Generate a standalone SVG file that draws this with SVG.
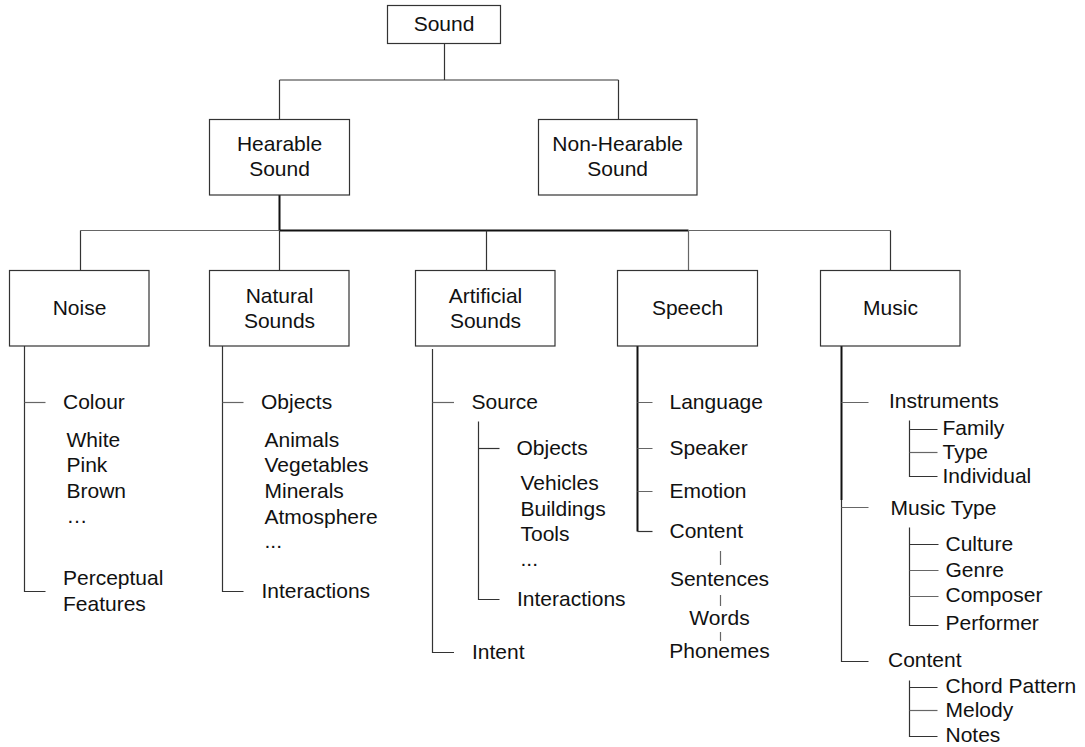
<svg xmlns="http://www.w3.org/2000/svg" width="1085" height="747" viewBox="0 0 1085 747">
<style>
text{font-family:"Liberation Sans",Arial,Helvetica,sans-serif;font-size:21px;fill:#111}
.c{text-anchor:middle}
.box{fill:#fff;stroke:#333;stroke-width:1.2}
.ln{stroke:#333;stroke-width:1.2;fill:none}
.lg{stroke:#666;stroke-width:1.2;fill:none}
.lb{stroke:#111;stroke-width:2;fill:none}
</style>
<rect width="1085" height="747" fill="#fff"/>
<g id="connectors">
<path class="ln" d="M444.5 44V80M279.5 80H618.5M279.5 80V119.5M618.5 80V119.5"/>
<path class="lb" d="M279.5 195V230.5M279.5 230.5H688.5"/>
<path class="lg" d="M80.5 230.5H279.5M688.5 230.5H890.5"/>
<path class="ln" d="M80.5 230.5V270.5M279.5 230.5V270.5M486.5 230.5V270.5M890.5 230.5V270.5"/>
<path class="lg" d="M688.5 230.5V270.5"/>
<!-- Noise -->
<path class="ln" d="M24.5 346V591.5H45.5"/>
<path class="lg" d="M24.5 402.5H45.5"/>
<!-- Natural -->
<path class="ln" d="M222.5 346V591.5H243.5"/>
<path class="lg" d="M222.5 402.5H243.5"/>
<!-- Artificial -->
<path class="ln" d="M432.5 349V652.5H454"/>
<path class="lg" d="M432.5 402.5H454"/>
<path class="ln" d="M478.5 421.5V599.5H499.5"/>
<path class="ln" d="M478.5 448.5H499.5"/>
<!-- Speech -->
<path class="lb" d="M637.5 346V531.5"/>
<path class="ln" d="M637.5 531.5H652.5"/>
<path class="lg" d="M637.5 402.5H652.5M637.5 448.5H652.5M637.5 491.5H652.5"/>
<path class="lg" d="M720.5 551V565M720.5 595V606M720.5 632V641"/>
<!-- Music -->
<path class="lb" d="M841.5 346V500"/>
<path class="ln" d="M841.5 500V661.5H868.5"/>
<path class="lg" d="M841.5 402.5H868.5M841.5 507.5H868.5"/>
<path class="ln" d="M909.5 420.5V476.5H937.5M909.5 429.5H937.5"/>
<path class="lg" d="M909.5 452.5H937.5"/>
<path class="ln" d="M909.5 527.5V625.5H938.5M909.5 544.5H938.5"/>
<path class="lg" d="M909.5 570.5H938.5M909.5 596.5H938.5"/>
<path class="ln" d="M909.5 680.5V736.5H937.5M909.5 687.5H937.5"/>
<path class="lg" d="M909.5 710.5H937.5"/>
</g>
<g id="sound">
<rect class="box" x="387.5" y="5.5" width="113" height="38"/>
<text class="c" x="444" y="31">Sound</text>
</g>
<g id="hearable">
<rect class="box" x="209.5" y="119.5" width="140" height="75.5"/>
<text class="c" x="279.5" y="151">Hearable</text>
<text class="c" x="279.5" y="176">Sound</text>
</g>
<g id="nonhearable">
<rect class="box" x="538.5" y="119.5" width="158.5" height="75.5"/>
<text class="c" x="617.7" y="151">Non-Hearable</text>
<text class="c" x="617.7" y="176">Sound</text>
</g>
<g id="noise">
<rect class="box" x="9.5" y="270.5" width="139.5" height="75.5"/>
<text class="c" x="79.5" y="315">Noise</text>
</g>
<g id="natural">
<rect class="box" x="209.5" y="270.5" width="139.5" height="75.5"/>
<text class="c" x="279.5" y="302.5">Natural</text>
<text class="c" x="279.5" y="328">Sounds</text>
</g>
<g id="artificial">
<rect class="box" x="415.5" y="270.5" width="139.5" height="75.5"/>
<text class="c" x="485.5" y="302.5">Artificial</text>
<text class="c" x="485.5" y="328">Sounds</text>
</g>
<g id="speech">
<rect class="box" x="617.5" y="270.5" width="140" height="75.5"/>
<text class="c" x="687.5" y="315">Speech</text>
</g>
<g id="music">
<rect class="box" x="820.5" y="270.5" width="139.5" height="75.5"/>
<text class="c" x="890.5" y="315">Music</text>
</g>
<g id="noise-items">
<text x="63" y="409">Colour</text>
<text x="66.5" y="447">White</text>
<text x="66.5" y="472">Pink</text>
<text x="66.5" y="498">Brown</text>
<text x="66.5" y="523">…</text>
<text x="63" y="585">Perceptual</text>
<text x="63" y="611">Features</text>
</g>
<g id="natural-items">
<text x="261" y="409">Objects</text>
<text x="264.5" y="447">Animals</text>
<text x="264.5" y="472">Vegetables</text>
<text x="264.5" y="498">Minerals</text>
<text x="264.5" y="524">Atmosphere</text>
<text x="264.5" y="548">...</text>
<text x="261.5" y="598">Interactions</text>
</g>
<g id="artificial-items">
<text x="471.5" y="409">Source</text>
<text x="516.5" y="455">Objects</text>
<text x="520.5" y="490">Vehicles</text>
<text x="520.5" y="516">Buildings</text>
<text x="520.5" y="541">Tools</text>
<text x="520.5" y="566">...</text>
<text x="517" y="606">Interactions</text>
<text x="472" y="659">Intent</text>
</g>
<g id="speech-items">
<text x="669.5" y="409">Language</text>
<text x="669.5" y="455">Speaker</text>
<text x="669.5" y="498">Emotion</text>
<text x="669.5" y="538">Content</text>
<text class="c" x="719.5" y="586">Sentences</text>
<text class="c" x="719.5" y="625">Words</text>
<text class="c" x="719.5" y="658">Phonemes</text>
</g>
<g id="music-items">
<text x="889" y="408">Instruments</text>
<text x="942.5" y="435">Family</text>
<text x="942.5" y="459">Type</text>
<text x="942.5" y="483">Individual</text>
<text x="890.5" y="515">Music Type</text>
<text x="945.5" y="551">Culture</text>
<text x="945.5" y="577">Genre</text>
<text x="945.5" y="602">Composer</text>
<text x="945.5" y="630">Performer</text>
<text x="888" y="667">Content</text>
<text x="945.5" y="693">Chord Pattern</text>
<text x="945.5" y="717">Melody</text>
<text x="945.5" y="742">Notes</text>
</g>
</svg>
